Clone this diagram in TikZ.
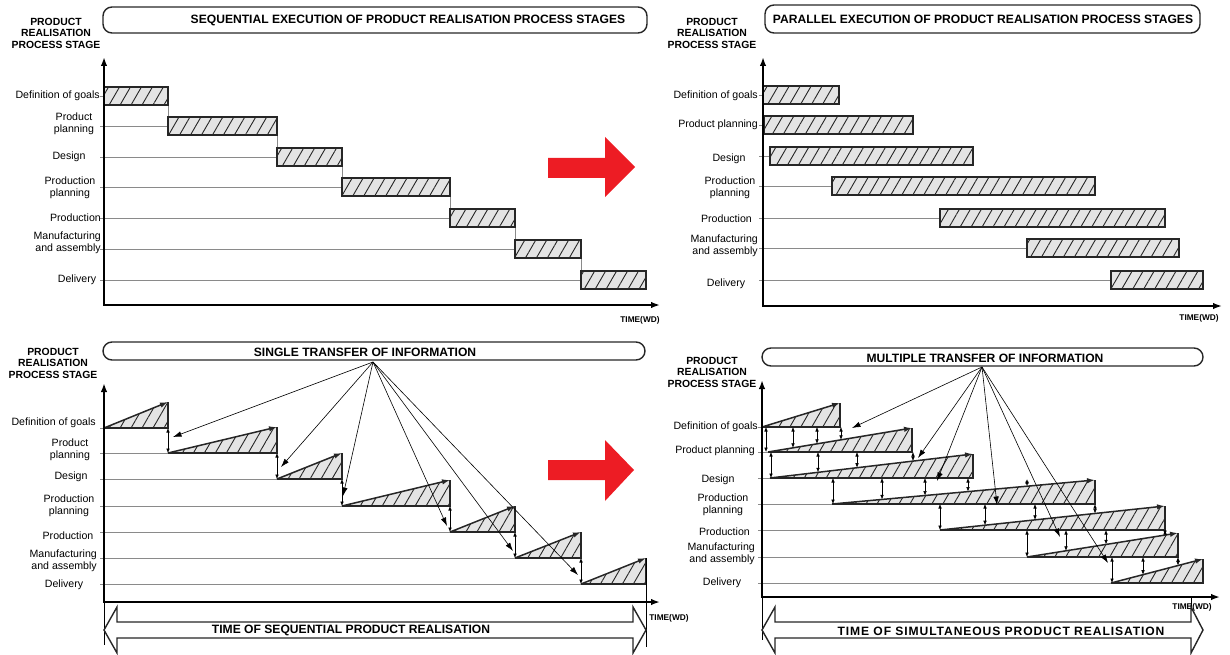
\documentclass[tikz,border=0pt]{standalone}
\usepackage{fontspec}
\setmainfont{Liberation Sans}
\usetikzlibrary{arrows.meta,patterns.meta}
\definecolor{signalred}{HTML}{ED1C24}
\definecolor{hatchbg}{HTML}{E4E4E4}
\definecolor{rulegray}{HTML}{8A8A8A}
\tikzset{
  px/.style={x=1pt,y=-1pt},
  gridline/.style={rulegray,line width=0.6pt},
  thinline/.style={black,line width=0.6pt},
  axisline/.style={line width=1.8pt,{Latex[length=9pt,width=6.5pt]}-{Latex[length=9pt,width=6.5pt]}},
  hatchfill/.style={preaction={fill=hatchbg},pattern={Lines[angle=60,distance=9.5pt,line width=0.9pt]},pattern color=black!85},
  stagebar/.style={hatchfill,draw=black!85,line width=1.6pt},
  wedgeline/.style={black!85,line width=1.6pt,line join=miter},
  risearrow/.style={black!85,line width=1.5pt,-{Latex[length=8pt,width=5.5pt]}},
  infoarrow/.style={black,line width=0.6pt,-{Latex[length=8.5pt,width=5.5pt]}},
  gaparrow/.style={black,line width=0.6pt,{Latex[length=4.5pt,width=3.6pt]}-{Latex[length=4.5pt,width=3.6pt]}},
  titlebox/.style={draw=black!85,line width=1.4pt,rounded corners=9pt},
  titletext/.style={font=\fontsize{12.1}{14}\selectfont\bfseries,inner sep=0pt},
  axistitle/.style={font=\fontsize{10.4}{11.5}\selectfont\bfseries,align=center,inner sep=0pt},
  stagelabel/.style={font=\fontsize{10.6}{12.5}\selectfont,inner sep=0pt,align=center},
  timelabel/.style={font=\fontsize{8.3}{9}\selectfont\bfseries,inner sep=0pt},
  hollowarrow/.style={draw=black!85,line width=1.4pt,fill=white,line join=miter},
}
\begin{document}
\begin{tikzpicture}[px]
\useasboundingbox (0,0) rectangle (1230,655);

% ================= sequential execution (top left) =================
\node[axistitle] (tl-axis) at (56,33) {PRODUCT\\REALISATION\\PROCESS STAGE};
\draw[titlebox] (103,7) rectangle (647,33);
\node[titletext] (tl-title) at (408,20) {SEQUENTIAL EXECUTION OF PRODUCT REALISATION PROCESS STAGES};

\node[stagelabel,anchor=east] (tl-goals) at (100,96) {Definition of goals};
\node[stagelabel] (tl-pplan) at (74,124) {Product\\planning};
\node[stagelabel] (tl-design) at (69,157) {Design};
\node[stagelabel] (tl-prodplan) at (70,188) {Production\\planning};
\node[stagelabel,anchor=east] (tl-prod) at (101,218) {Production};
\node[stagelabel,anchor=east,align=right] (tl-manuf) at (101,243) {Manufacturing\\and assembly};
\node[stagelabel] (tl-deliv) at (77,280) {Delivery};

\foreach \y/\a/\b in {96/104/168,126/168/277,157/277/342,187/342/450,218/450/515,249/515/581,280/581/646}{
  \draw[gridline] (100,\y) -- (\a,\y);
}
\foreach \x/\ya/\yb in {168/105/117,277/135/148,342/166/178,450/196/209,515/227/240,581/258/271}{
  \draw[gridline] (\x,\ya) -- (\x,\yb);
}
\foreach \y/\a/\b in {96/104/168,126/168/277,157/277/342,187/342/450,218/450/515,249/515/581,280/581/646}{
  \draw[stagebar] (\a,\y-9) rectangle (\b,\y+9);
}
\draw[axisline] (104,57) -- (104,305) -- (660,305);
\node[timelabel] (tl-time) at (640,320) {TIME(WD)};

% ================= parallel execution (top right) =================
\node[axistitle] (tr-axis) at (712,33) {PRODUCT\\REALISATION\\PROCESS STAGE};
\draw[titlebox] (765,5) rectangle (1200,33);
\node[titletext] (tr-title) at (983,19) {PARALLEL EXECUTION OF PRODUCT REALISATION PROCESS STAGES};

\node[stagelabel,anchor=east] (tr-goals) at (758,96) {Definition of goals};
\node[stagelabel,anchor=east] (tr-pplan) at (758,125) {Product planning};
\node[stagelabel] (tr-design) at (729,159) {Design};
\node[stagelabel] (tr-prodplan) at (730,188) {Production\\planning};
\node[stagelabel,anchor=east] (tr-prod) at (752,219) {Production};
\node[stagelabel,anchor=east,align=right] (tr-manuf) at (758,246) {Manufacturing\\and assembly};
\node[stagelabel] (tr-deliv) at (726,284) {Delivery};

\foreach \y/\a/\b in {95/763/839,125/764/913,156/770/973,186/832/1095,218/940/1165,248/1027/1179,280/1111/1203}{
  \draw[gridline] (759,\y) -- (\a,\y);
  \draw[stagebar] (\a,\y-9) rectangle (\b,\y+9);
}
\draw[axisline] (763,57) -- (763,306) -- (1222,306);
\node[timelabel] (tr-time) at (1199,318) {TIME(WD)};

% ================= transition arrows =================
\fill[signalred] (548,158) -- (605,158) -- (605,137) -- (635,167) -- (605,197) -- (605,178) -- (548,178) -- cycle;
\fill[signalred] (548,460) -- (605,460) -- (605,440) -- (634,470) -- (605,501) -- (605,480) -- (548,480) -- cycle;

% ================= single transfer (bottom left) =================
\node[axistitle] (bl-axis) at (53,363) {PRODUCT\\REALISATION\\PROCESS STAGE};
\draw[titlebox] (103,342) rectangle (645,360);
\node[titletext] (bl-title) at (365,352) {SINGLE TRANSFER OF INFORMATION};

\node[stagelabel,anchor=east] (bl-goals) at (96,423) {Definition of goals};
\node[stagelabel] (bl-pplan) at (70,450) {Product\\planning};
\node[stagelabel] (bl-design) at (71,477) {Design};
\node[stagelabel] (bl-prodplan) at (69,506) {Production\\planning};
\node[stagelabel] (bl-prod) at (68,536) {Production};
\node[stagelabel,anchor=east,align=right] (bl-manuf) at (97,561) {Manufacturing\\and assembly};
\node[stagelabel] (bl-deliv) at (64,585) {Delivery};

\foreach \y/\b in {428/168,453/277,479/342,506/450,532/515,558/581,584/646}{
  \draw[gridline] (100,\y) -- (\b,\y);
}
\foreach \a/\b/\y in {104/168/428,168/277/453,277/342/479,342/450/506,450/515/532,515/581/558,581/646/584}{
  \path[hatchfill] (\a,\y) -- (\b,\y) -- (\b,\y-26) -- cycle;
  \draw[wedgeline] (\a,\y) -- (\b,\y) -- (\b,\y-26);
  \draw[risearrow] (\a,\y) -- (\b,\y-26);
}
\foreach \x/\ya/\yb in {168/428/453,277/453/479,342/479/506,450/506/532,515/532/558,581/558/584}{
  \draw[gaparrow] (\x,\ya) -- (\x,\yb);
}
\coordinate (bl-src) at (373,362);
\foreach \tx/\ty in {173/437,281/467,343/496,447/526,513/551,578/575}{
  \draw[infoarrow] (bl-src) -- (\tx,\ty);
}
\draw[thinline] (104,602) -- (104,645);
\draw[thinline] (646,558) -- (646,647);
\draw[axisline] (104,383) -- (104,602) -- (660,602);
\node[timelabel] (bl-time) at (669,618) {TIME(WD)};
\draw[hollowarrow] (104,630) -- (117,607) -- (117,622) -- (633,622) -- (633,607) -- (646,630)
  -- (633,653) -- (633,638) -- (117,638) -- (117,653) -- cycle;
\node[titletext] (bl-span) at (351,630) {TIME OF SEQUENTIAL PRODUCT REALISATION};

% ================= multiple transfer (bottom right) =================
\node[axistitle] (br-axis) at (712,372) {PRODUCT\\REALISATION\\PROCESS STAGE};
\draw[titlebox] (762,348) rectangle (1203,366);
\node[titletext] (br-title) at (985,358) {MULTIPLE TRANSFER OF INFORMATION};

\node[stagelabel,anchor=east] (br-goals) at (758,427) {Definition of goals};
\node[stagelabel,anchor=east] (br-pplan) at (755,451) {Product planning};
\node[stagelabel] (br-design) at (718,480) {Design};
\node[stagelabel] (br-prodplan) at (723,505) {Production\\planning};
\node[stagelabel,anchor=east] (br-prod) at (750,532) {Production};
\node[stagelabel,anchor=east,align=right] (br-manuf) at (755,554) {Manufacturing\\and assembly};
\node[stagelabel] (br-deliv) at (722,583) {Delivery};

\foreach \y/\b in {427/840,452/912,478/973,504/1095,530/1165,557/1178,583/1203}{
  \draw[gridline] (758,\y) -- (\b,\y);
}
\foreach \a/\b/\y in {762/840/427,768/912/452,770/973/478,832/1095/504,940/1165/530,1027/1178/557,1111/1203/583}{
  \path[hatchfill] (\a,\y) -- (\b,\y) -- (\b,\y-24) -- cycle;
  \draw[wedgeline] (\a,\y) -- (\b,\y) -- (\b,\y-24);
  \draw[risearrow] (\a,\y) -- (\b,\y-24);
}
\foreach \x/\ya/\yb in {766/427/452,793/427/447.8,817/427/443.8,841/427/439.8,
  771/452/478,818/452/472.3,857/452/467.7,913/452/461.1,
  833/478/504,882/478/499.4,925/478/495.5,968/478/491.6,1027/479/486.2,
  940/504/530,985/504/525.2,1035/504/519.9,1095/504/513.5,
  1027/530/557,1066/530/550.8,1106/530/544.4,1165/530/535,
  1112/557/583,1143/557/574.7,1178/557/565.5}{
  \draw[gaparrow] (\x,\ya) -- (\x,\yb);
}
\coordinate (br-src) at (982,367);
\foreach \tx/\ty in {852/428,918/458,937/481,997/505,1060/537,1108/563}{
  \draw[infoarrow] (br-src) -- (\tx,\ty);
}
\draw[thinline] (762,597) -- (762,640);
\draw[thinline] (1191,597) -- (1191,607);
\draw[axisline] (762,380) -- (762,597) -- (1220,597);
\node[timelabel] (br-time) at (1192,607) {TIME(WD)};
\draw[hollowarrow] (762,630) -- (775,607) -- (775,622) -- (1191,622) -- (1191,607) -- (1203,630)
  -- (1191,653) -- (1191,638) -- (775,638) -- (775,653) -- cycle;
\node[titletext,font=\fontsize{12.1}{14}\selectfont\bfseries\addfontfeature{LetterSpace=7.5}] (br-span) at (1001,631) {TIME OF SIMULTANEOUS PRODUCT REALISATION};

\end{tikzpicture}
\end{document}
